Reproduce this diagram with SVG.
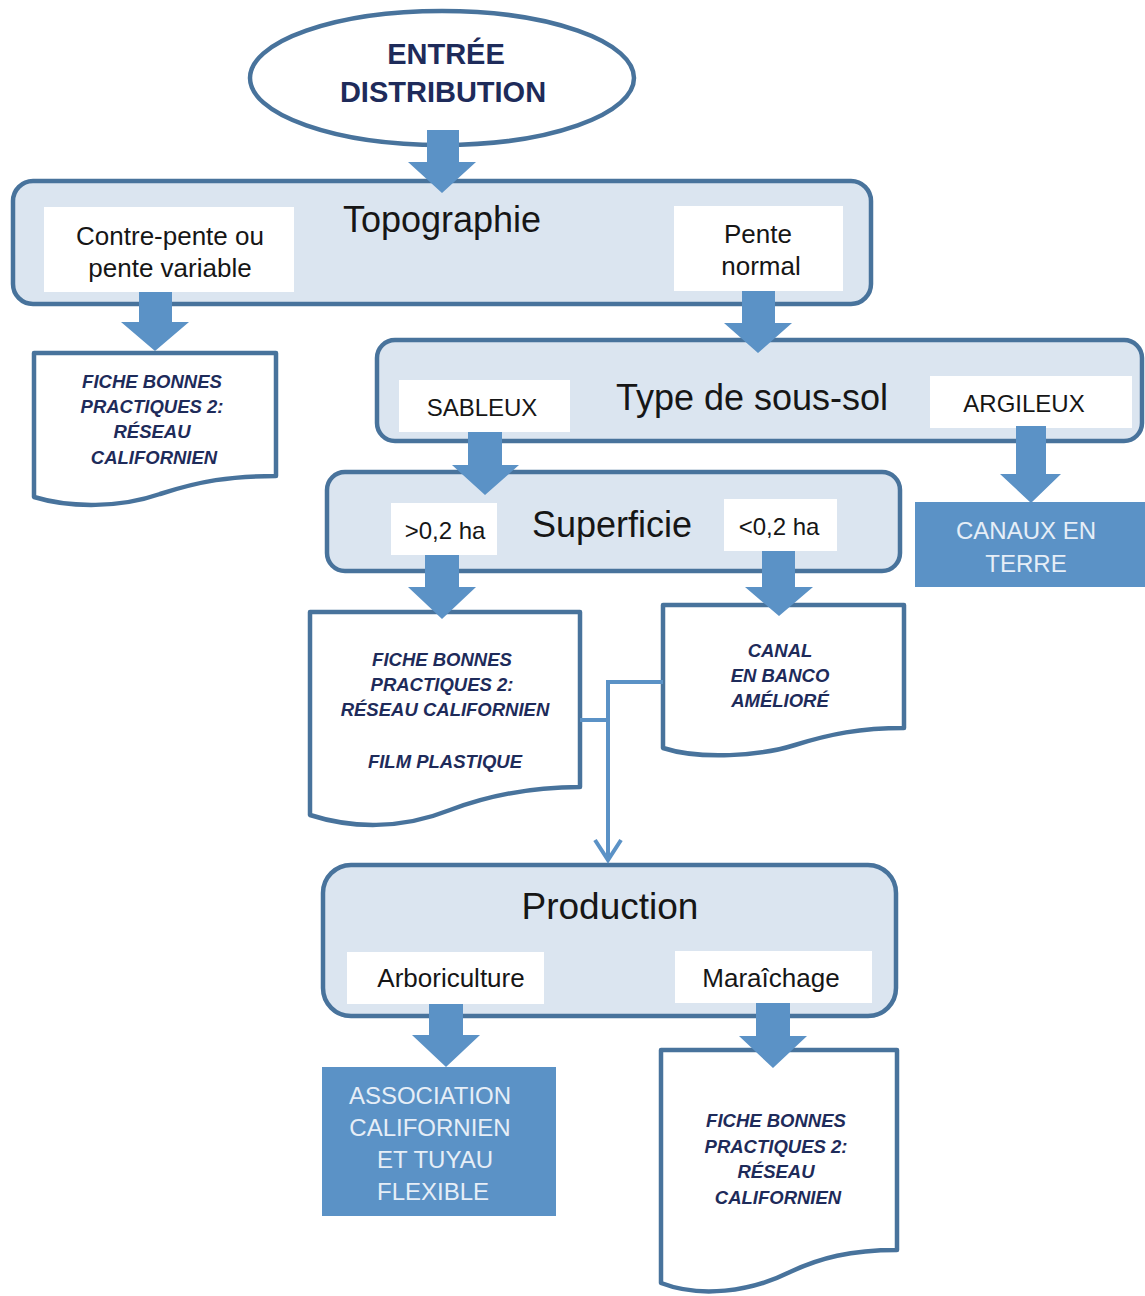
<svg xmlns="http://www.w3.org/2000/svg" width="1145" height="1296" viewBox="0 0 1145 1296">
<style>
.box{fill:#dbe5f0;stroke:#48739c;stroke-width:4.5}
.lab{fill:#ffffff}
.doc{fill:#ffffff;stroke:#48739c;stroke-width:4.5;stroke-linejoin:round}
.sol{fill:#5b92c6}
.arr{fill:#5b92c6}
.t{font-family:"Liberation Sans",Arial,sans-serif;fill:#161616;text-anchor:middle}
.big{font-size:36px}
.mid{font-size:26px}
.sm{font-size:24px}
.w{font-family:"Liberation Sans",Arial,sans-serif;fill:#e6eef7;text-anchor:middle;font-size:24px}
.bi{font-family:"Liberation Sans",Arial,sans-serif;font-weight:bold;font-style:italic;fill:#1e2b5a;text-anchor:middle;font-size:18.5px}
.hd{font-family:"Liberation Sans",Arial,sans-serif;font-weight:bold;fill:#1e2b5a;text-anchor:middle;font-size:29px}
.ln{fill:none;stroke:#5b92c6;stroke-width:4}
</style>
<rect width="1145" height="1296" fill="#ffffff"/>

<g id="entree">
<ellipse cx="442" cy="78" rx="192" ry="67" fill="#ffffff" stroke="#48739c" stroke-width="4.5"/>
<text class="hd" x="446" y="64">ENTRÉE</text>
<text class="hd" x="443" y="102">DISTRIBUTION</text>
</g>

<g id="topographie">
<rect class="box" x="13" y="181" width="858" height="123" rx="20"/>
<rect class="lab" x="44" y="207" width="250" height="85"/>
<rect class="lab" x="674" y="206" width="169" height="85"/>
<text class="t big" x="442" y="232">Topographie</text>
<text class="t mid" x="170" y="245">Contre-pente ou</text>
<text class="t mid" x="170" y="277">pente variable</text>
<text class="t mid" x="758" y="243">Pente</text>
<text class="t mid" x="761" y="275">normal</text>
</g>

<g id="fiche1">
<path class="doc" d="M34,353 H276 V476 C230,476 200,481 160,494 C120,508 70,508 34,497 Z"/>
<text class="bi" x="152" y="388">FICHE BONNES</text>
<text class="bi" x="152" y="413">PRACTIQUES 2:</text>
<text class="bi" x="152" y="438">RÉSEAU</text>
<text class="bi" x="154" y="464">CALIFORNIEN</text>
</g>

<g id="soussol">
<rect class="box" x="377" y="340" width="765" height="101" rx="18"/>
<rect class="lab" x="399" y="380" width="171" height="52"/>
<rect class="lab" x="930" y="376" width="202" height="52"/>
<text class="t big" x="752" y="410">Type de sous-sol</text>
<text class="t sm" x="482" y="416">SABLEUX</text>
<text class="t sm" x="1024" y="412">ARGILEUX</text>
</g>

<g id="canaux">
<rect class="sol" x="915" y="502" width="230" height="85"/>
<text class="w" x="1026" y="539">CANAUX EN</text>
<text class="w" x="1026" y="572">TERRE</text>
</g>

<g id="superficie">
<rect class="box" x="327" y="472" width="573" height="99" rx="18"/>
<rect class="lab" x="391" y="503" width="106" height="52"/>
<rect class="lab" x="724" y="499" width="113" height="52"/>
<text class="t big" x="612" y="537">Superficie</text>
<text class="t sm" x="445" y="539">&gt;0,2 ha</text>
<text class="t sm" x="779" y="535">&lt;0,2 ha</text>
</g>

<g id="fiche2">
<path class="doc" d="M310,612 H580 V787 C530,787 490,795 450,810 C400,830 350,828 310,815 Z"/>
<text class="bi" x="442" y="666">FICHE BONNES</text>
<text class="bi" x="442" y="691">PRACTIQUES 2:</text>
<text class="bi" x="445" y="716">RÉSEAU CALIFORNIEN</text>
<text class="bi" x="445" y="768">FILM PLASTIQUE</text>
</g>

<g id="canal">
<path class="doc" d="M663,605 H904 V728 C860,728 830,734 795,745 C760,756 700,760 663,748 Z"/>
<text class="bi" x="780" y="657">CANAL</text>
<text class="bi" x="780" y="682">EN BANCO</text>
<text class="bi" x="780" y="707">AMÉLIORÉ</text>
</g>

<g id="production">
<rect class="box" x="323" y="865" width="573" height="151" rx="28"/>
<rect class="lab" x="347" y="952" width="197" height="52"/>
<rect class="lab" x="675" y="951" width="197" height="52"/>
<text class="t" x="610" y="919" style="font-size:37px">Production</text>
<text class="t mid" x="451" y="987">Arboriculture</text>
<text class="t mid" x="771" y="987">Maraîchage</text>
</g>

<g id="association">
<rect class="sol" x="322" y="1067" width="234" height="149"/>
<text class="w" x="430" y="1104">ASSOCIATION</text>
<text class="w" x="430" y="1136">CALIFORNIEN</text>
<text class="w" x="435" y="1168">ET TUYAU</text>
<text class="w" x="433" y="1200">FLEXIBLE</text>
</g>

<g id="fiche3">
<path class="doc" d="M661,1050 H897 V1250 C850,1250 820,1258 790,1272 C750,1292 700,1298 661,1283 Z"/>
<text class="bi" x="776" y="1127">FICHE BONNES</text>
<text class="bi" x="776" y="1153">PRACTIQUES 2:</text>
<text class="bi" x="776" y="1178">RÉSEAU</text>
<text class="bi" x="778" y="1204">CALIFORNIEN</text>
</g>

<g id="connectors">
<path class="arr" d="M427,130 H459 V162 H476 L442,193 L408,162 H427 Z"/>
<path class="arr" d="M139,292 H172 V322 H189 L155,351 L121,322 H139 Z"/>
<path class="arr" d="M742,291 H775 V323 H792 L758,353 L724,323 H742 Z"/>
<path class="arr" d="M468,432 H502 V465 H519 L485,495 L452,465 H468 Z"/>
<path class="arr" d="M1016,426 H1046 V474 H1061 L1031,503 L1000,474 H1016 Z"/>
<path class="arr" d="M425,555 H459 V587 H476 L442,619 L408,587 H425 Z"/>
<path class="arr" d="M762,551 H795 V587 H813 L779,616 L745,587 H762 Z"/>
<path class="arr" d="M429,1004 H463 V1035 H480 L446,1067 L412,1035 H429 Z"/>
<path class="arr" d="M756,1003 H790 V1036 H807 L773,1068 L739,1036 H756 Z"/>
<path class="ln" d="M580,720 H608 M663,682 H608 V860"/>
<path class="ln" d="M595,840 L608,860 L621,840" stroke-linejoin="miter"/>
</g>
</svg>
